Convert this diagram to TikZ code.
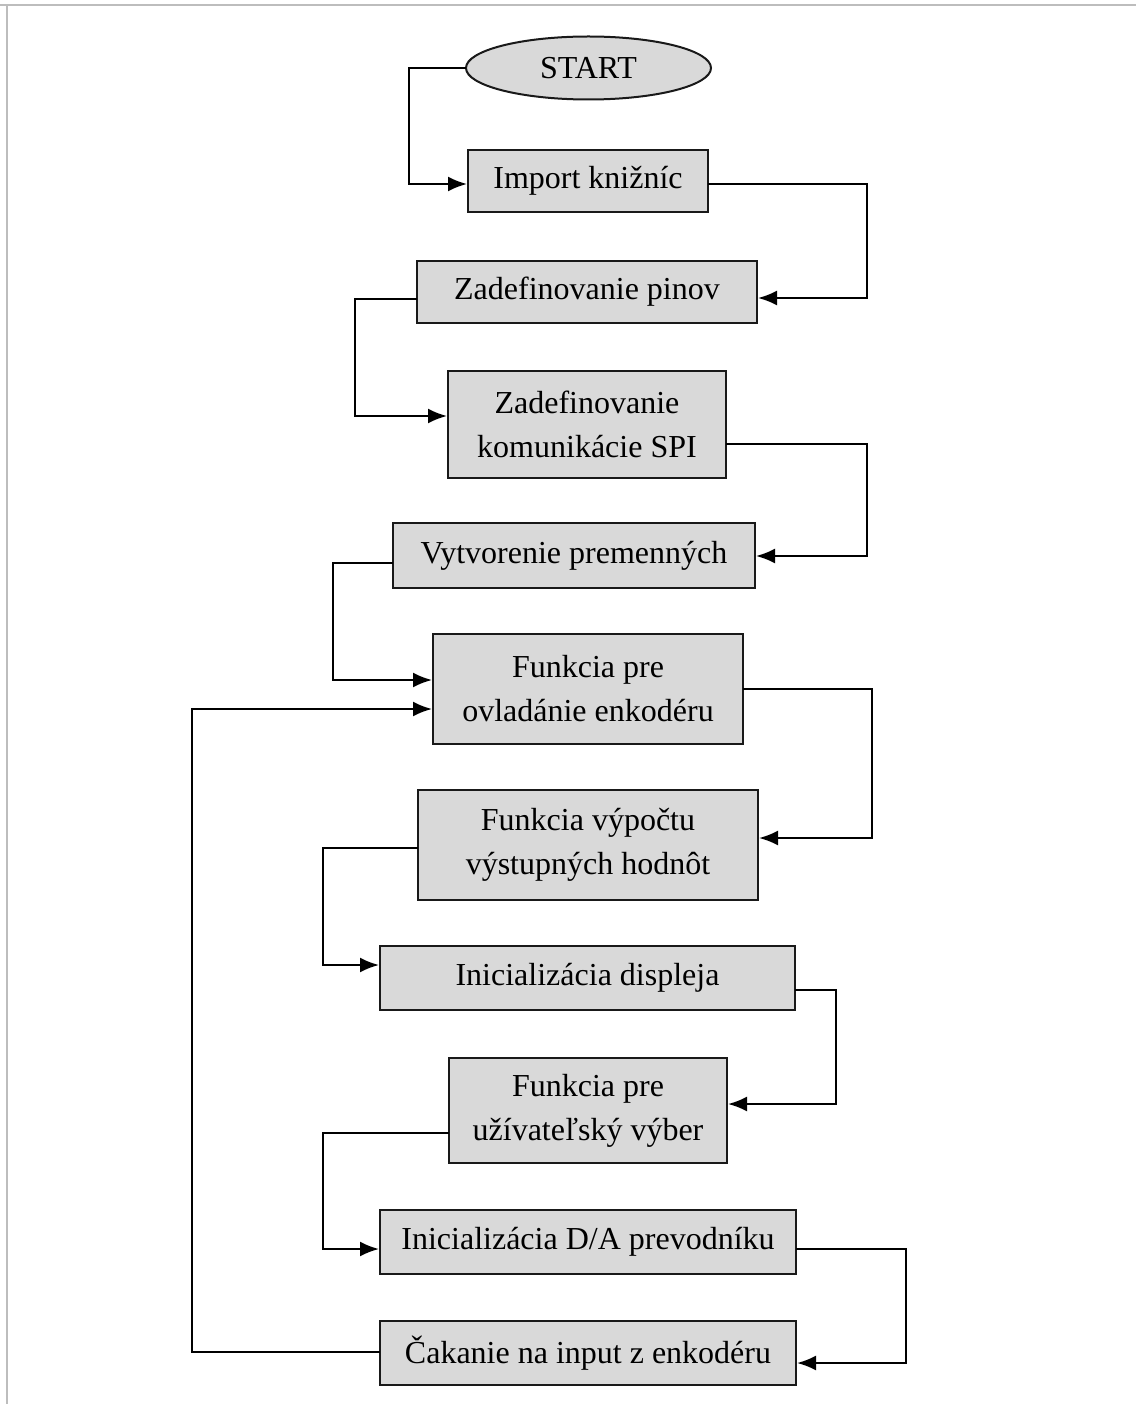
\documentclass[tikz,border=0pt]{standalone}
\usepackage{fontspec}
\setmainfont{Liberation Serif}
\usetikzlibrary{shapes.geometric,arrows.meta}
\definecolor{boxfill}{HTML}{D9D9D9}
\definecolor{framegray}{HTML}{BDBDBD}
\begin{document}
\begin{tikzpicture}[x=1pt,y=-1pt,
  stepbox/.style={draw=black!90, line width=2pt, fill=boxfill, rectangle, inner sep=0pt, align=center,
    font={\fontsize{32}{44}\selectfont}},
  startnode/.style={draw=black!90, line width=2pt, fill=boxfill, ellipse, inner sep=0pt,
    minimum width=245pt, minimum height=63pt, font={\fontsize{32}{44}\selectfont}},
  arr/.style={line width=2.2pt, line cap=rect, -{Latex[length=19pt,width=15pt]}},
  ]
\useasboundingbox (0,0) rectangle (1136,1404);
\draw[framegray, line width=2.2pt] (0,5) -- (1136,5);
\draw[framegray, line width=2.2pt] (7,5) -- (7,1404);

\node[startnode] (start) at (588.5,68) {START};
\node[stepbox, minimum width=240pt, minimum height=62pt] (imp) at (588,181) {Import knižníc};
\node[stepbox, minimum width=340pt, minimum height=62pt] (pin) at (587,292) {Zadefinovanie pinov};
\node[stepbox, minimum width=278pt, minimum height=107pt] (spi) at (587,424.5) {Zadefinovanie\\komunikácie SPI};
\node[stepbox, minimum width=362pt, minimum height=65pt] (vyt) at (574,555.5) {Vytvorenie premenných};
\node[stepbox, minimum width=310pt, minimum height=110pt] (ovl) at (588,689) {Funkcia pre\\ovladánie enkodéru};
\node[stepbox, minimum width=340pt, minimum height=110pt] (vyp) at (588,845) {Funkcia výpočtu\\výstupných hodnôt};
\node[stepbox, minimum width=415pt, minimum height=64pt] (dis) at (587.5,978) {Inicializácia displeja};
\node[stepbox, minimum width=278pt, minimum height=105pt] (uzi) at (588,1110.5) {Funkcia pre\\užívateľský výber};
\node[stepbox, minimum width=416pt, minimum height=64pt] (da) at (588,1242) {Inicializácia D/A prevodníku};
\node[stepbox, minimum width=416pt, minimum height=64pt] (cak) at (588,1353) {Čakanie na input z enkodéru};

\draw[arr] (start.west) -- (409,68) |- (imp.west |- 0,184);
\draw[arr] (imp.east |- 0,184) -- (867,184) |- (pin.east |- 0,298);
\draw[arr] (pin.west |- 0,299) -- (355,299) |- (spi.west |- 0,416);
\draw[arr] (spi.east |- 0,444) -- (867,444) |- (vyt.east |- 0,556);
\draw[arr] (vyt.west |- 0,563) -- (333,563) |- (ovl.west |- 0,680);
\draw[arr] (ovl.east |- 0,689) -- (872,689) |- (vyp.east |- 0,838);
\draw[arr] (vyp.west |- 0,848) -- (323,848) |- (dis.west |- 0,965);
\draw[arr] (dis.east |- 0,990) -- (836,990) |- (uzi.east |- 0,1104);
\draw[arr] (uzi.west |- 0,1133) -- (323,1133) |- (da.west |- 0,1249);
\draw[arr] (da.east |- 0,1249) -- (906,1249) |- (cak.east |- 0,1363);
\draw[arr] (cak.west |- 0,1352) -- (192,1352) |- (ovl.west |- 0,709);
\end{tikzpicture}
\end{document}
